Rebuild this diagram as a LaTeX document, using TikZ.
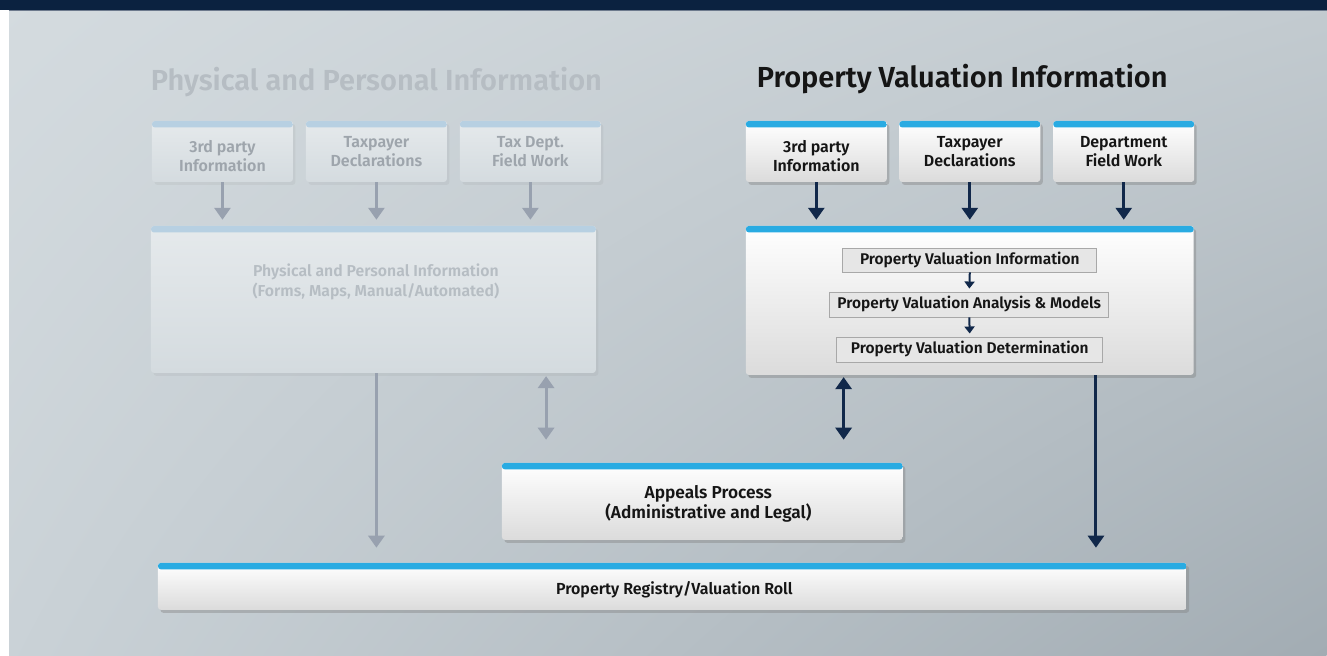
\documentclass[tikz,border=0pt]{standalone}
\usepackage{fontspec}
\setmainfont{Fira Sans}[UprightFont=* Medium, BoldFont=* SemiBold]
\usetikzlibrary{arrows.meta,shadows,shadings}
\definecolor{navy}{HTML}{0B2240}
\definecolor{arrnavy}{HTML}{11284A}
\definecolor{stripblue}{HTML}{29ABE2}
\definecolor{fadestrip}{HTML}{B7D0E2}
\definecolor{fadearrow}{HTML}{98A1AF}
\definecolor{fadetext}{HTML}{9EA5AC}
\definecolor{fadetext2}{HTML}{B6BDC3}
\definecolor{bgTL}{HTML}{D4DBDF}
\definecolor{bgTR}{HTML}{C3CBD0}
\definecolor{bgBL}{HTML}{CAD2D7}
\definecolor{bgBR}{HTML}{A2ACB3}
\definecolor{innerfill}{HTML}{E6E6E6}
\definecolor{innerdraw}{HTML}{A8A8A8}
\definecolor{darktext}{HTML}{151515}
\tikzset{
  card/.style={rectangle, rounded corners=3pt, top color=white, bottom color=black!14,
    drop shadow={opacity=0.4, shadow xshift=2.5pt, shadow yshift=-3pt},
    align=center, text=darktext, font=\fontsize{16}{19}\selectfont\bfseries,
    path picture={\fill[stripblue] (path picture bounding box.north west) rectangle ([yshift=-6.5pt]path picture bounding box.north east);}},
  fadecard/.style={rectangle, rounded corners=3pt, top color=white!40!bgTL, bottom color=bgTL,
    drop shadow={opacity=0.10, shadow xshift=2.5pt, shadow yshift=-3pt},
    align=center, text=fadetext, font=\fontsize{16}{19}\selectfont\bfseries,
    path picture={\fill[fadestrip] (path picture bounding box.north west) rectangle ([yshift=-6.5pt]path picture bounding box.north east);}},
  innerbox/.style={rectangle, fill=innerfill, draw=innerdraw, line width=0.8pt, text=darktext,
    font=\fontsize{15.5}{17}\selectfont\bfseries, inner sep=0pt},
  lbl/.style={align=center, text=darktext, inner sep=0pt},
  arr/.style={draw=arrnavy, line width=3pt, -{Triangle[width=16pt,length=12pt]}},
  dbl/.style={draw=arrnavy, line width=3pt, {Triangle[width=16pt,length=12pt]}-{Triangle[width=16pt,length=12pt]}},
  farr/.style={draw=fadearrow, line width=3pt, -{Triangle[width=16pt,length=12pt]}},
  fdbl/.style={draw=fadearrow, line width=3pt, {Triangle[width=16pt,length=12pt]}-{Triangle[width=16pt,length=12pt]}},
  smallarr/.style={draw=arrnavy, line width=2pt, -{Triangle[width=10pt,length=7pt]}},
}
\begin{document}
\begin{tikzpicture}[x=1pt,y=-1pt]
% background
\shade[upper left=bgTL, upper right=bgTR, lower left=bgBL, lower right=bgBR] (0,0) rectangle (1327,656);
\fill[white] (0,10) rectangle (9,656);
\fill[navy] (0,0) rectangle (1327,10);
\draw[navy!60!white, line width=0.6pt] (9,10.3) -- (1327,10.3);
\useasboundingbox (0,0) rectangle (1327,656);

% titles
\node[text=fadetext2, font=\fontsize{29}{33}\selectfont\bfseries] (ltitle) at (376.5,82) {Physical and Personal Information};
\node[text=darktext, font=\fontsize{29}{33}\selectfont\bfseries] (rtitle) at (962.5,79) {Property Valuation Information};

% ---------- left (faded) ----------
\node[fadecard, minimum width=141pt, minimum height=61pt] (l1) at (222.5,151.5) {};
\node[lbl, text=fadetext, font=\fontsize{16}{19}\selectfont\bfseries] (l1t) at ([yshift=-5pt]l1.center) {3rd party\\Information};
\node[fadecard, minimum width=141pt, minimum height=61pt] (l2) at (376.5,151.5) {Taxpayer\\Declarations};
\node[fadecard, minimum width=141pt, minimum height=61pt] (l3) at (530.5,151.5) {Tax Dept.\\Field Work};
\node[fadecard, minimum width=445pt, minimum height=147pt] (lbig) at (373.5,299.5) {};
\node[lbl, text=fadetext2, font=\fontsize{15.8}{20}\selectfont\bfseries] (lbigtext) at (376,282) {Physical and Personal Information\\(Forms, Maps, Manual/Automated)};

\draw[farr, shorten >=6pt] (l1.south) -- (l1.south |- lbig.north);
\draw[farr, shorten >=6pt] (l2.south) -- (l2.south |- lbig.north);
\draw[farr, shorten >=6pt] (l3.south) -- (l3.south |- lbig.north);

% ---------- right ----------
\node[card, minimum width=141pt, minimum height=61pt] (r1) at (816.5,151.5) {};
\node[lbl, font=\fontsize{16}{19}\selectfont\bfseries] (r1t) at ([yshift=-5pt]r1.center) {3rd party\\Information};
\node[card, minimum width=141pt, minimum height=61pt] (r2) at (970,151.5) {Taxpayer\\Declarations};
\node[card, minimum width=141pt, minimum height=61pt] (r3) at (1124,151.5) {Department\\Field Work};
\node[card, minimum width=448pt, minimum height=149pt] (rbig) at (970,300.5) {};

\node[innerbox, minimum width=254pt, minimum height=24pt] (i1) at (970,260) {Property Valuation Information};
\node[innerbox, minimum width=279pt, minimum height=25pt] (i2) at (969.5,304.5) {Property Valuation Analysis \& Models};
\node[innerbox, minimum width=266pt, minimum height=25pt] (i3) at (970,349.5) {Property Valuation Determination};
\draw[smallarr, shorten >=3pt] (i1.south) -- (i2.north);
\draw[smallarr, shorten >=3pt] (i2.south) -- (i3.north);

\draw[arr, shorten >=6pt] (r1.south) -- (r1.south |- rbig.north);
\draw[arr, shorten >=6pt] (r2.south) -- (r2.south |- rbig.north);
\draw[arr, shorten >=6pt] (r3.south) -- (r3.south |- rbig.north);

% ---------- bottom ----------
\node[card, minimum width=401pt, minimum height=77pt] (app) at (702.5,501.5) {};
\node[lbl, font=\fontsize{17.3}{20}\selectfont\bfseries] (appt) at (708.5,504) {Appeals Process\\(Administrative and Legal)};
\node[card, minimum width=1029pt, minimum height=47pt] (reg) at (672.5,586.5) {};
\node[lbl, font=\fontsize{16}{18}\selectfont\bfseries] (regt) at (674.5,590) {Property Registry/Valuation Roll};

\coordinate (ldown) at ([xshift=3pt]lbig.south);
\coordinate (ldbl) at ([xshift=-50pt]lbig.south east);
\coordinate (rdbl) at ([xshift=98pt]rbig.south west);
\coordinate (rdown) at ([xshift=-98pt]rbig.south east);

\draw[farr, shorten >=15pt] (ldown) -- (ldown |- reg.north);
\draw[fdbl, shorten <=3pt, shorten >=23pt] (ldbl) -- (ldbl |- app.north);
\draw[dbl, shorten <=2pt, shorten >=23pt] (rdbl) -- (rdbl |- app.north);
\draw[arr, shorten >=15pt] (rdown) -- (rdown |- reg.north);
\end{tikzpicture}
\end{document}
